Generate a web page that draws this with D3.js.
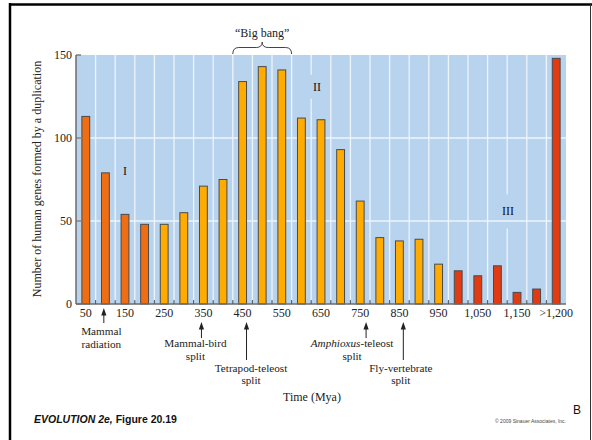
<!DOCTYPE html>
<html>
<head>
<meta charset="utf-8">
<script src="https://cdn.jsdelivr.net/npm/d3@7"></script>
<style>
  html, body { margin: 0; padding: 0; background: #fff; }
  svg { display: block; }
</style>
</head>
<body>
<svg id="chart" width="592" height="440"></svg>
<script>
// ---------- DATA ----------
const categories = ["50","100","150","200","250","300","350","400","450","500","550","600",
  "650","700","750","800","850","900","950","1,000","1,050","1,100","1,150","1,200",">1,200"];
const values = [113,79,54,48,48,55,71,75,134,143,141,112,111,93,62,40,38,39,24,20,17,23,7,9,148];
const periods = ["I","I","I","I","II","II","II","II","II","II","II","II","II","II","II","II","II","II","II",
  "III","III","III","III","III","III"];
const tickLabels = ["50","150","250","350","450","550","650","750","850","950","1,050","1,150",">1,200"];
const yTicks = [0, 50, 100, 150];
const annotationMya = [96, 345, 460, 765, 860];
const annotationLines = [["Mammal","radiation"],["Mammal-bird","split"],["Tetrapod-teleost","split"],
  ["Amphioxus|-teleost","split"],["Fly-vertebrate","split"]];
const bigBangCats = ["450","550"];
const regionLabels = ["I","II","III"];
const regionMya = [150, 640, 1127];
const regionValue = [78, 128.5, 53.4];

// ---------- LAYOUT ----------
const svg = d3.select("#chart");
const L = 76, R = 566, T = 55, B = 304;
const serif = "'Liberation Serif', 'Times New Roman', serif";
const sans = "'Liberation Sans', Arial, sans-serif";
const colors = { I: "#ef6d13", II: "#ffab00", III: "#e03b12" };

const x = d3.scaleBand().domain(categories).range([L, R]).paddingInner(0.6).paddingOuter(0.3);
const y = d3.scaleLinear().domain([0, 150]).range([B, T]);
const bw = x.bandwidth();
const half = (x.step() - bw) / 2;
const tScale = d3.scaleLinear().domain([50, 1200])
  .range([x("50") + bw / 2, x("1,200") + bw / 2]);

// frame
svg.append("line").attr("x1", 9).attr("x2", 592).attr("y1", 4.5).attr("y2", 4.5)
  .attr("stroke", "#000").attr("stroke-width", 2.5);
svg.append("line").attr("x1", 10).attr("x2", 10).attr("y1", 3).attr("y2", 440)
  .attr("stroke", "#000").attr("stroke-width", 2.5);
svg.append("line").attr("x1", 590.5).attr("x2", 590.5).attr("y1", 4).attr("y2", 440)
  .attr("stroke", "#333").attr("stroke-width", 1);

// plot background
svg.append("rect").attr("x", L).attr("y", T).attr("width", R - L).attr("height", B - T)
  .attr("fill", "#b8d3ee");

// vertical gridlines at band boundaries
const bounds = categories.slice(1).map(c => x(c) - half);
svg.append("g").selectAll("line").data(bounds).join("line")
  .attr("x1", d => d).attr("x2", d => d).attr("y1", T).attr("y2", B - 3)
  .attr("stroke", "#eef4fb").attr("stroke-width", 1.3);

// region labels knockout + text
const regG = svg.append("g");
regionLabels.forEach((lab, i) => {
  const t = regG.append("text").attr("x", tScale(regionMya[i])).attr("y", y(regionValue[i]))
    .attr("text-anchor", "middle").attr("font-family", serif).attr("font-size", 12)
    .attr("fill", "#111").text(lab);
  if (i > 0) {
    const bb = t.node().getBBox();
    const padY = i === 1 ? 5 : 10;
    regG.insert("rect", "text").attr("x", bb.x - 3).attr("y", bb.y - padY)
      .attr("width", bb.width + 6).attr("height", bb.height + 2 * padY).attr("fill", "#b8d3ee");
  }
});

// horizontal gridlines
svg.append("g").selectAll("line").data(yTicks.filter(d => d > 0 && d < 150)).join("line")
  .attr("x1", L).attr("x2", R).attr("y1", d => y(d)).attr("y2", d => y(d))
  .attr("stroke", "#eef4fb").attr("stroke-width", 1.3);

// bars
svg.append("g").selectAll("rect").data(categories).join("rect")
  .attr("x", d => x(d)).attr("width", bw)
  .attr("y", (d, i) => y(values[i])).attr("height", (d, i) => y(0) - y(values[i]))
  .attr("fill", (d, i) => colors[periods[i]])
  .attr("stroke", "#4a4a4a").attr("stroke-width", 1);

// x axis
svg.append("line").attr("x1", L).attr("x2", R).attr("y1", B).attr("y2", B)
  .attr("stroke", "#6d6d6d").attr("stroke-width", 1.5);
svg.append("g").selectAll("line").data(bounds).join("line")
  .attr("x1", d => d).attr("x2", d => d).attr("y1", B).attr("y2", B - 4)
  .attr("stroke", "#555").attr("stroke-width", 1);
svg.append("g").selectAll("text").data(tickLabels).join("text")
  .attr("x", d => x(d) + bw / 2).attr("y", 317)
  .attr("text-anchor", "middle").attr("font-family", serif).attr("font-size", 12)
  .attr("fill", "#222").text(d => d);

// y axis
svg.append("line").attr("x1", L).attr("x2", L).attr("y1", T).attr("y2", B)
  .attr("stroke", "#6d6d6d").attr("stroke-width", 1.5);
svg.append("g").selectAll("line").data(yTicks).join("line")
  .attr("x1", L).attr("x2", L + 5).attr("y1", d => y(d)).attr("y2", d => y(d))
  .attr("stroke", "#6d6d6d").attr("stroke-width", 1.3);
svg.append("g").selectAll("text").data(yTicks).join("text")
  .attr("x", 72).attr("y", d => y(d) + 4)
  .attr("text-anchor", "end").attr("font-family", serif).attr("font-size", 12)
  .attr("fill", "#222").text(d => d);

svg.append("text").attr("transform", "translate(41,179) rotate(-90)")
  .attr("text-anchor", "middle").attr("font-family", serif).attr("font-size", 12)
  .attr("fill", "#222").text("Number of human genes formed by a duplication");

svg.append("text").attr("x", 312).attr("y", 401).attr("text-anchor", "middle")
  .attr("font-family", serif).attr("font-size", 12).attr("fill", "#222").text("Time (Mya)");

// annotations (arrows + labels)
const annLayout = [
  { dx: -2.5, y0: 308, y1: 323, base: 335 },
  { dx: -6, y0: 322, y1: 338, base: 347 },
  { dx: 4.5, y0: 322, y1: 360, base: 371.5 },
  { dx: -14, y0: 322, y1: 338, base: 347 },
  { dx: -2.5, y0: 322, y1: 360, base: 371.5 }
];
const annFont = 11.2, annLead = 12.5;
const annG = svg.append("g");
annotationMya.forEach((m, i) => {
  const ax = tScale(m), lay = annLayout[i];
  annG.append("line").attr("x1", ax).attr("x2", ax).attr("y1", lay.y0 + 5).attr("y2", lay.y1)
    .attr("stroke", "#222").attr("stroke-width", 1);
  annG.append("path").attr("d", `M${ax},${lay.y0} L${ax - 2.6},${lay.y0 + 7.5} L${ax + 2.6},${lay.y0 + 7.5} Z`)
    .attr("fill", "#222");
  annotationLines[i].forEach((ln, j) => {
    const t = annG.append("text").attr("x", ax + lay.dx).attr("y", lay.base + j * annLead)
      .attr("text-anchor", "middle").attr("font-family", serif).attr("font-size", annFont).attr("fill", "#222");
    if (ln.includes("|")) {
      const [a, b] = ln.split("|");
      t.append("tspan").attr("font-style", "italic").text(a);
      t.append("tspan").text(b);
    } else t.text(ln);
  });
});

// "Big bang" brace
const bx0 = x(bigBangCats[0]) - half, bx1 = x(bigBangCats[1]) + bw + half, bm = (bx0 + bx1) / 2;
const yb = 47.5, ye = 54, yt = 42;
svg.append("path")
  .attr("d", `M${bx0},${ye} Q${bx0},${yb} ${bx0 + 6},${yb} L${bm - 6},${yb} Q${bm},${yb} ${bm},${yt} ` +
             `Q${bm},${yb} ${bm + 6},${yb} L${bx1 - 6},${yb} Q${bx1},${yb} ${bx1},${ye}`)
  .attr("fill", "none").attr("stroke", "#444").attr("stroke-width", 1);
svg.append("text").attr("x", bm).attr("y", 37).attr("text-anchor", "middle")
  .attr("font-family", serif).attr("font-size", 12).attr("fill", "#222").text("\u201CBig bang\u201D");

// footer
const foot = svg.append("text").attr("x", 34).attr("y", 423)
  .attr("font-family", sans).attr("font-size", 10.5).attr("font-weight", "bold").attr("fill", "#111");
foot.append("tspan").attr("font-style", "italic").text("EVOLUTION 2e,");
foot.append("tspan").text(" Figure 20.19");
svg.append("text").attr("x", 573).attr("y", 414).attr("font-family", sans).attr("font-size", 12)
  .attr("fill", "#111").text("B");
svg.append("text").attr("x", 566).attr("y", 423).attr("text-anchor", "end").attr("font-family", sans)
  .attr("font-size", 5).attr("fill", "#444").text("\u00A9 2009 Sinauer Associates, Inc.");
</script>
</body>
</html>
